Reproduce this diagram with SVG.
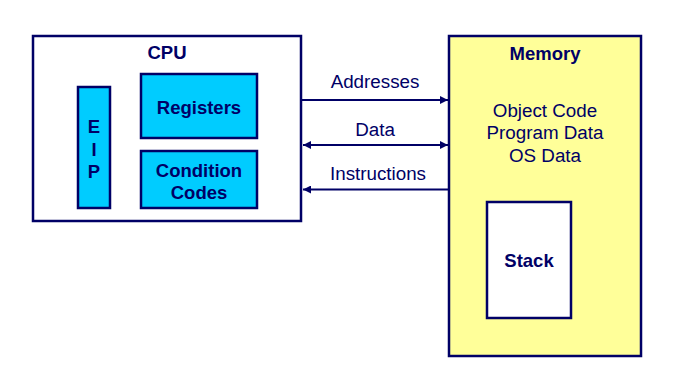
<svg xmlns="http://www.w3.org/2000/svg" width="673" height="390" viewBox="0 0 673 390">
  <style>
    .box { stroke: #000066; stroke-width: 2.5; }
    .cpu { fill: #ffffff; }
    .unit { fill: #00ccff; }
    .mem { fill: #ffff99; }
    .stack { fill: #ffffff; }
    .title { font-family: "Liberation Sans", Arial, sans-serif; font-weight: bold; font-size: 18.5px; fill: #000066; text-anchor: middle; }
    .label { font-family: "Liberation Sans", Arial, sans-serif; font-size: 18.8px; fill: #000066; text-anchor: middle; }
    .wire { stroke: #000066; stroke-width: 2; fill: none; }
  </style>
  <defs>
    <marker id="head" viewBox="0 0 8 8" refX="8" refY="4" markerWidth="4" markerHeight="4" orient="auto-start-reverse" markerUnits="strokeWidth">
      <path d="M0,0 L8,4 L0,8 Z" fill="#000066"/>
    </marker>
  </defs>

  <!-- processor -->
  <g id="cpu">
    <rect class="box cpu" x="33" y="36" width="268" height="185"/>
    <text class="title" x="167" y="59">CPU</text>
  </g>
  <g id="eip">
    <rect class="box unit" x="78" y="87" width="32" height="121"/>
    <text class="title" x="94" y="133">E</text>
    <text class="title" x="94" y="156">I</text>
    <text class="title" x="94" y="178">P</text>
  </g>
  <g id="registers">
    <rect class="box unit" x="141" y="74" width="116" height="64"/>
    <text class="title" x="199" y="114">Registers</text>
  </g>
  <g id="condition-codes">
    <rect class="box unit" x="141" y="151" width="116" height="57"/>
    <text class="title" x="199" y="176.5">Condition</text>
    <text class="title" x="199" y="198.5">Codes</text>
  </g>

  <!-- memory -->
  <g id="memory">
    <rect class="box mem" x="449" y="36" width="192" height="320"/>
    <text class="title" x="545" y="59.5">Memory</text>
    <text class="label" x="545" y="116.5">Object Code</text>
    <text class="label" x="545" y="139">Program Data</text>
    <text class="label" x="545" y="161.5">OS Data</text>
  </g>
  <g id="stack">
    <rect class="box stack" x="487" y="202" width="84" height="116"/>
    <text class="title" x="529" y="267">Stack</text>
  </g>

  <!-- buses -->
  <g id="connectors">
    <line class="wire" x1="302" y1="100" x2="448" y2="100" marker-end="url(#head)"/>
    <line class="wire" x1="303" y1="145" x2="448" y2="145" marker-start="url(#head)" marker-end="url(#head)"/>
    <line class="wire" x1="448" y1="189.5" x2="303" y2="189.5" marker-end="url(#head)"/>
    <text class="label" x="375" y="88">Addresses</text>
    <text class="label" x="375" y="135.5">Data</text>
    <text class="label" x="378" y="180">Instructions</text>
  </g>
</svg>
